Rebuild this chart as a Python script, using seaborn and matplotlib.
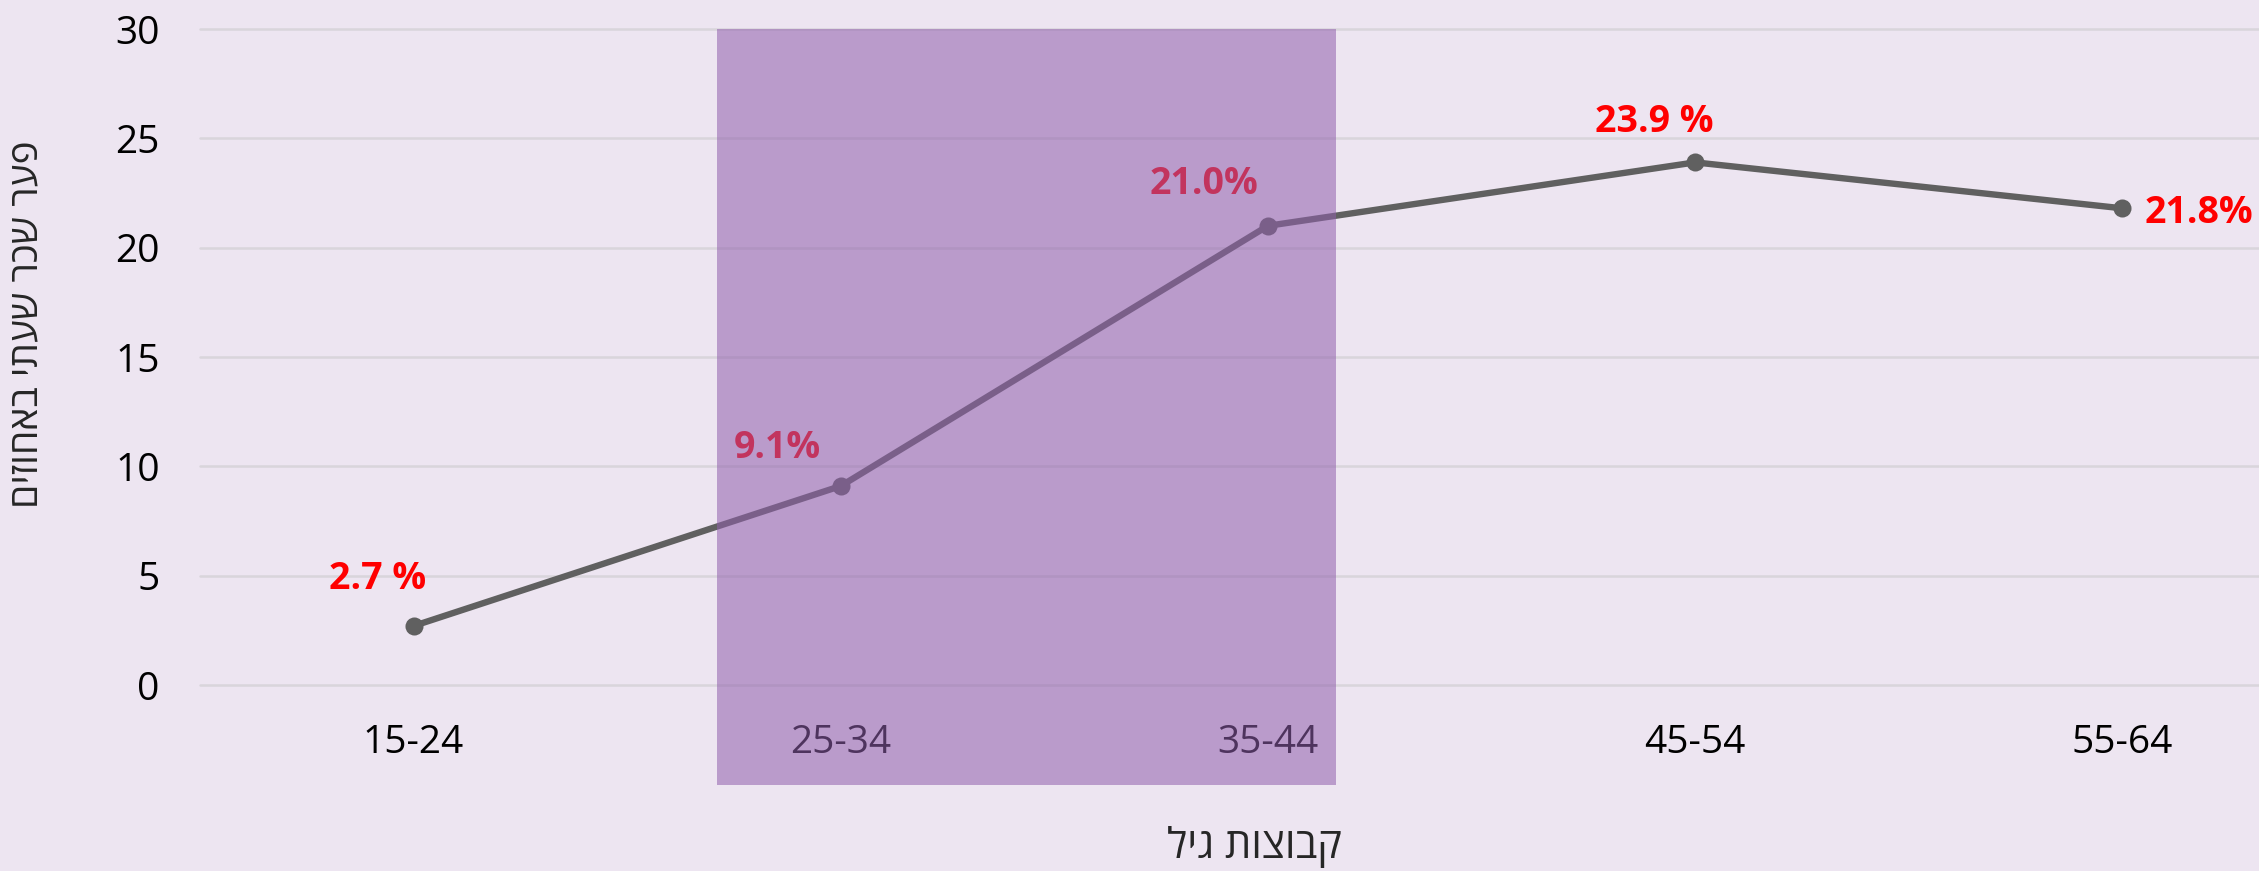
import matplotlib
matplotlib.use('Agg')
import matplotlib.pyplot as plt
import seaborn as sns
from matplotlib.patches import Rectangle

# data
age_groups = ['15-24', '25-34', '35-44', '45-54', '55-64']
wage_gap = [2.7, 9.1, 21.0, 23.9, 21.8]
value_labels = ['2.7 %', '9.1%', '21.0%', '23.9 %', '21.8%']
# label offsets in pixels (dx, dy) relative to the point
label_offsets = [(-36, 47), (-63, 38), (-64, 42), (-41, 40), (77, -5)]

x_title = 'קבוצות גיל'
y_title = 'פער שכר שעתי באחוזים'

bg = '#EDE5F1'
sns.set_style('white')
plt.rcParams['font.family'] = ['Open Sans', 'DejaVu Sans']

fig = plt.figure(figsize=(22.59, 8.71), dpi=100, facecolor=bg)
ax = fig.add_axes([200 / 2259, 1 - 685 / 871, 2059 / 2259, 656 / 871])
ax.set_facecolor(bg)

sns.lineplot(x=age_groups, y=wage_gap, sort=False, marker='o', color='#606060',
             linewidth=4.6, markersize=13, markeredgewidth=0, ax=ax, zorder=3)

ax.set_xlim(-0.5, 4.32)
ax.set_ylim(0, 30)
ax.set_yticks(range(0, 31, 5))
ax.yaxis.grid(True, color='#D9D5DB', linewidth=1.8)
ax.xaxis.grid(False)
for g in ax.get_ygridlines():
    g.set_clip_on(False)
for s in ax.spines.values():
    s.set_visible(False)
ax.tick_params(axis='both', length=0, labelsize=28, colors='black')
ax.tick_params(axis='y', pad=29)
ax.tick_params(axis='x', pad=28)

# value labels
for i, (v, lab) in enumerate(zip(wage_gap, value_labels)):
    dx, dy = label_offsets[i]
    ax.annotate(lab, (i, v), xytext=(dx * 0.72, dy * 0.72), textcoords='offset points',
                ha='center', va='center', color='#FF0000', fontsize=27,
                fontweight='bold', zorder=4, annotation_clip=False)

# highlighted band over 25-34 / 35-44
rect = Rectangle((0.71, -4.57), 1.45, 34.57, facecolor='#905FAC', alpha=0.55,
                 edgecolor='none', clip_on=False, zorder=5)
ax.add_patch(rect)

ax.set_xlabel(x_title[::-1], fontsize=30, va='center')
ax.set_ylabel(y_title[::-1], fontsize=28, va='center')
ax.xaxis.set_label_coords(0.512, -0.247)
ax.yaxis.set_label_coords(-0.084, 0.55)

fig.savefig('out.png', dpi=100, facecolor=bg)
